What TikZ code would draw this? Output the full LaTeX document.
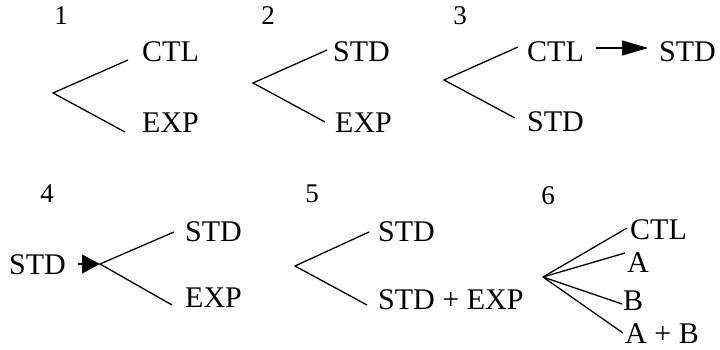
\documentclass[tikz,border=0pt]{standalone}
\usepackage{fontspec}
\setmainfont{Liberation Serif}
\usetikzlibrary{arrows.meta}
\begin{document}
\begin{tikzpicture}[x=1pt,y=-1pt,
  lbl/.style={anchor=west,inner sep=0pt,font=\fontsize{30}{31}\selectfont},
  num/.style={inner sep=0pt,font=\fontsize{27}{28}\selectfont},
  branch/.style={line width=1.3pt},
  bigarrow/.style={line width=1.3pt,-{Triangle[length=26pt,width=15pt]}},
  smallarrow/.style={line width=1.3pt,-{Triangle[length=18pt,width=19pt]}}]
\useasboundingbox (0,0) rectangle (720,349);
% panel 1
\node[num] (n1) at (61,16) {1};
\coordinate (a1) at (53,93);
\coordinate (u1) at (128,60);
\coordinate (d1) at (125,132);
\node[lbl] (c1) at (142,52) {CTL};
\node[lbl] (e1) at (142,122.5) {EXP};
\draw[branch] (u1) -- (a1) -- (d1);
% panel 2
\node[num] (n2) at (268,16) {2};
\coordinate (a2) at (253,83);
\coordinate (u2) at (327,50);
\coordinate (d2) at (325,122);
\node[lbl] (s2) at (333,52) {STD};
\node[lbl] (e2) at (335,122.5) {EXP};
\draw[branch] (u2) -- (a2) -- (d2);
% panel 3
\node[num] (n3) at (460,16) {3};
\coordinate (a3) at (444,80);
\coordinate (u3) at (518,47);
\coordinate (d3) at (515,118);
\node[lbl] (c3) at (527,52) {CTL};
\node[lbl] (s3b) at (527,122) {STD};
\node[lbl] (s3r) at (659,52) {STD};
\coordinate (t3s) at (596,48);
\coordinate (t3e) at (648,48);
\draw[branch] (u3) -- (a3) -- (d3);
\draw[bigarrow] (t3s) -- (t3e);
% panel 4
\node[num] (n4) at (47,194) {4};
\node[lbl] (s4l) at (9,265) {STD};
\coordinate (t4s) at (78,264);
\coordinate (a4) at (100,264);
\coordinate (u4) at (174,232);
\coordinate (d4) at (172,305);
\node[lbl] (s4) at (185,232) {STD};
\node[lbl] (e4) at (185,298) {EXP};
\draw[smallarrow] (t4s) -- (a4);
\draw[branch] (u4) -- (a4) -- (d4);
% panel 5
\node[num] (n5) at (312,194) {5};
\coordinate (a5) at (295,266);
\coordinate (u5) at (369,232);
\coordinate (d5) at (367,305);
\node[lbl] (s5) at (378,232) {STD};
\node[lbl] (se5) at (378,300) {STD + EXP};
\draw[branch] (u5) -- (a5) -- (d5);
% panel 6
\node[num] (n6) at (548,196) {6};
\coordinate (a6) at (543,277);
\coordinate (k1) at (627,228);
\coordinate (k2) at (625,253);
\coordinate (k3) at (622,304);
\coordinate (k4) at (623,333);
\node[lbl] (c6) at (630,229.5) {CTL};
\node[lbl] (A6) at (627,263) {A};
\node[lbl] (B6) at (623,300.5) {B};
\node[lbl] (AB6) at (625,334) {A + B};
\draw[branch] (a6) -- (k1);
\draw[branch] (a6) -- (k2);
\draw[branch] (a6) -- (k3);
\draw[branch] (a6) -- (k4);
\end{tikzpicture}
\end{document}
